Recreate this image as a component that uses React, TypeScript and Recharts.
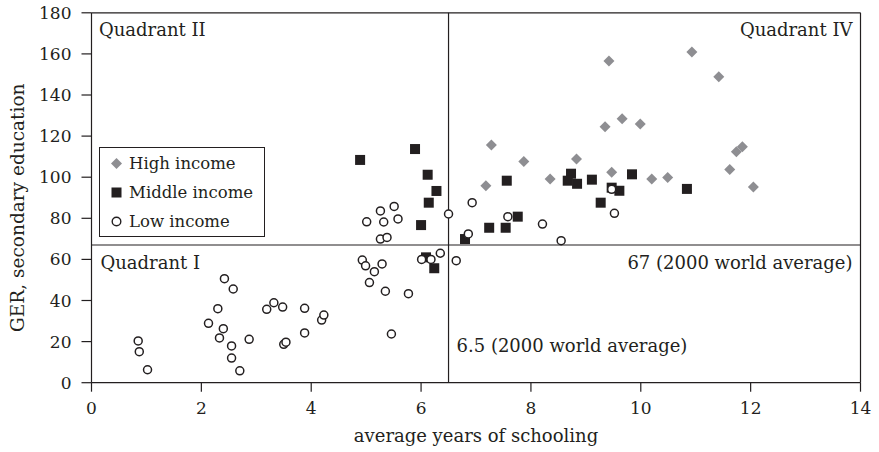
import React from 'react';
import { ScatterChart, Scatter, XAxis, YAxis, ReferenceLine, Legend } from 'recharts';

const INK = '#231f20';
const GREY = '#8e8e92';
const FONT = '"DejaVu Serif", serif';

// Axis ticks
const schoolingTicks = [0, 2, 4, 6, 8, 10, 12, 14];
const gerTicks = [0, 20, 40, 60, 80, 100, 120, 140, 160, 180];

// 2000 world averages
const worldAvgSchooling = 6.5;
const worldAvgGER = 67;

// [average years of schooling, GER secondary education]
const highIncome: [number, number][] = [
  [7.28, 115.7], [7.18, 95.9], [7.87, 107.7], [8.35, 99.1], [8.83, 108.9],
  [9.42, 156.5], [9.35, 124.6], [9.66, 128.5], [9.99, 125.9], [9.47, 102.4],
  [10.2, 99.1], [10.49, 99.8], [10.93, 160.9], [11.42, 148.9], [11.62, 103.7],
  [11.74, 112.4], [11.85, 114.8], [12.05, 95.2],
];

const middleIncome: [number, number][] = [
  [4.89, 108.4], [5.89, 113.7], [6.12, 101.2], [6.28, 93.3], [6.14, 87.6],
  [6.0, 76.7], [6.09, 61.0], [6.24, 55.7], [6.8, 69.9], [7.56, 98.3],
  [7.24, 75.4], [7.54, 75.4], [7.76, 80.8], [8.73, 101.7], [8.67, 98.3],
  [8.84, 96.8], [9.11, 98.8], [9.27, 87.6], [9.47, 94.9], [9.61, 93.4],
  [9.84, 101.4], [10.84, 94.3],
];

const lowIncome: [number, number][] = [
  [0.85, 20.3], [0.87, 15.1], [1.02, 6.3], [2.42, 50.6], [2.58, 45.6],
  [2.3, 36.0], [2.13, 28.9], [2.4, 26.3], [2.33, 21.8], [2.55, 17.9],
  [2.55, 12.0], [2.7, 5.8], [2.87, 21.1], [3.19, 35.7], [3.32, 38.9],
  [3.48, 36.8], [3.5, 18.7], [3.54, 19.7], [3.88, 36.2], [3.88, 24.2],
  [4.19, 30.5], [4.23, 32.9], [5.01, 78.3], [5.26, 83.6], [5.32, 78.2],
  [5.51, 85.8], [5.58, 79.7], [5.26, 69.9], [5.38, 70.7], [6.5, 82.1],
  [4.93, 59.7], [4.99, 56.9], [5.15, 54.0], [5.29, 57.8], [5.06, 48.7],
  [5.35, 44.5], [5.77, 43.3], [6.01, 60.0], [6.18, 60.0], [6.35, 63.0],
  [6.64, 59.4], [5.46, 23.7], [6.93, 87.6], [6.86, 72.4], [7.58, 80.8],
  [8.21, 77.2], [8.55, 69.1], [9.47, 94.1], [9.52, 82.4],
];

const toPoints = (rows: [number, number][]) => rows.map(([x, y]) => ({ x, y }));

const DiamondMark = (p: any) => {
  const { cx, cy } = p;
  const r = 5.5;
  return <path d={`M${cx},${cy - r}L${cx + r},${cy}L${cx},${cy + r}L${cx - r},${cy}Z`} fill={GREY} />;
};
const SquareMark = (p: any) => <rect x={p.cx - 5} y={p.cy - 5} width={10} height={10} fill={INK} />;
const CircleMark = (p: any) => (
  <circle cx={p.cx} cy={p.cy} r={4} fill="#fff" stroke={INK} strokeWidth={1.5} />
);

const series = [
  { name: 'High income', rows: highIncome, shape: DiamondMark, icon: 'diamond' },
  { name: 'Middle income', rows: middleIncome, shape: SquareMark, icon: 'square' },
  { name: 'Low income', rows: lowIncome, shape: CircleMark, icon: 'circle' },
];

const LegendIcon = ({ kind }: { kind: string }) => (
  <svg width={11} height={11} style={{ display: 'block' }}>
    {kind === 'diamond' && <path d="M5.5,0L11,5.5L5.5,11L0,5.5Z" fill={GREY} />}
    {kind === 'square' && <rect x={0.5} y={0.5} width={10} height={10} fill={INK} />}
    {kind === 'circle' && <circle cx={5.5} cy={5.5} r={4.3} fill="#fff" stroke={INK} strokeWidth={1.4} />}
  </svg>
);

const renderLegend = (props: any) => {
  const items = [...(props.payload || [])].sort(
    (a: any, b: any) =>
      series.findIndex((s) => s.name === a.value) - series.findIndex((s) => s.name === b.value),
  );
  return (
    <div
      style={{
        boxSizing: 'border-box',
        width: 166,
        height: 90,
        border: `1px solid ${INK}`,
        background: '#fff',
        paddingTop: 1,
        paddingLeft: 11,
        fontFamily: FONT,
        fontSize: 16.5,
        color: INK,
      }}
    >
      {items.map((it: any) => {
        const s = series.find((q) => q.name === it.value);
        return (
          <div key={it.value} style={{ height: 29, display: 'flex', alignItems: 'center' }}>
            <LegendIcon kind={s ? s.icon : 'circle'} />
            <span style={{ marginLeft: 7, whiteSpace: 'nowrap' }}>{it.value}</span>
          </div>
        );
      })}
    </div>
  );
};

const textStyle = { fontFamily: FONT, fontSize: 18, fill: INK };

const topBorderLabel = ({ viewBox }: any) => (
  <g>
    <text x={viewBox.x + 7.5} y={viewBox.y + 23} {...textStyle}>Quadrant II</text>
    <text x={viewBox.x + viewBox.width - 8} y={viewBox.y + 23} textAnchor="end" {...textStyle}>
      Quadrant IV
    </text>
  </g>
);

const gerAvgLabel = ({ viewBox }: any) => (
  <g>
    <text x={viewBox.x + 9} y={viewBox.y + 24} {...textStyle}>Quadrant I</text>
    <text x={viewBox.x + viewBox.width - 8} y={viewBox.y + 24} textAnchor="end" {...textStyle}>
      {`${worldAvgGER} (2000 world average)`}
    </text>
  </g>
);

const schoolingAvgLabel = ({ viewBox }: any) => (
  <text x={viewBox.x + 8} y={viewBox.y + viewBox.height - 31} {...textStyle}>
    {`${worldAvgSchooling} (2000 world average)`}
  </text>
);

const xTitle = ({ viewBox }: any) => (
  <text x={viewBox.x + viewBox.width / 2} y={viewBox.y + 59} textAnchor="middle" {...textStyle}>
    average years of schooling
  </text>
);

const yTitle = ({ viewBox }: any) => {
  const cx = viewBox.x - 8;
  const cy = viewBox.y + viewBox.height / 2 + 10;
  return (
    <text x={cx} y={cy} textAnchor="middle" transform={`rotate(-90, ${cx}, ${cy})`} {...textStyle} fontSize={18.5}>
      GER, secondary education
    </text>
  );
};

export default function App() {
  const tick = { fontFamily: FONT, fontSize: 17, fill: INK };
  return (
    <div style={{ position: 'absolute', left: 0, top: 0 }}>
      <ScatterChart
        width={879}
        height={452}
        margin={{ top: 12.8, right: 18.5, bottom: 9.3, left: 31.5 }}
      >
        <XAxis
          type="number"
          dataKey="x"
          domain={[0, 14]}
          ticks={schoolingTicks}
          interval={0}
          height={60}
          tick={tick}
          tickSize={9}
          tickMargin={10}
          axisLine={{ stroke: INK, strokeWidth: 1.2 }}
          tickLine={{ stroke: INK, strokeWidth: 1.2 }}
          label={xTitle}
        />
        <YAxis
          type="number"
          dataKey="y"
          domain={[0, 180]}
          ticks={gerTicks}
          interval={0}
          width={60}
          tick={tick}
          tickSize={10}
          tickMargin={10}
          axisLine={{ stroke: INK, strokeWidth: 1.2 }}
          tickLine={{ stroke: INK, strokeWidth: 1.2 }}
          label={yTitle}
        />
        <ReferenceLine y={180} stroke={INK} strokeWidth={1.2} label={topBorderLabel} />
        <ReferenceLine x={14} stroke={INK} strokeWidth={1.2} />
        <ReferenceLine y={worldAvgGER} stroke={INK} strokeWidth={1.2} label={gerAvgLabel} />
        <ReferenceLine x={worldAvgSchooling} stroke={INK} strokeWidth={1.2} label={schoolingAvgLabel} />
        {series.map((s) => (
          <Scatter
            key={s.name}
            name={s.name}
            data={toPoints(s.rows)}
            fill={s.icon === 'diamond' ? GREY : INK}
            shape={s.shape}
            isAnimationActive={false}
          />
        ))}
        <Legend
          layout="horizontal"
          verticalAlign="middle"
          align="center"
          width={166}
          height={90}
          content={renderLegend}
          wrapperStyle={{ left: 99, top: 147, width: 166, height: 90 }}
        />
      </ScatterChart>
    </div>
  );
}
